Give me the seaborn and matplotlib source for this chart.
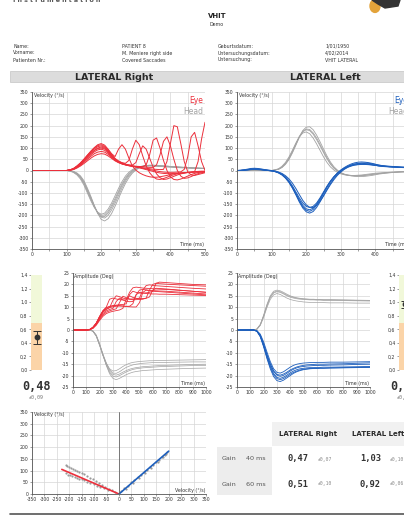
import numpy as np
import pandas as pd
import matplotlib
matplotlib.use("Agg")
import matplotlib.pyplot as plt
import seaborn as sns
from matplotlib.patches import Rectangle, Circle, Polygon
from matplotlib.lines import Line2D

# ---------------------------------------------------------------- data
VEL_TIME = list(range(0, 501, 10))
AMP_TIME = [0, 100, 125, 150, 175, 200, 225, 250, 275, 300, 325, 350, 375, 400,
            425, 450, 475, 500, 525, 550, 575, 600, 625, 650, 700, 800, 900, 1000]

Z10 = [0, 0, 0, 0, 0, 0, 0, 0, 0, 0]

# LATERAL Right - eye velocity (deg/s), one list per impulse
RIGHT_EYE_VEL = {
    "r1": Z10 + [0, 3, 9, 20, 33, 50, 68, 86, 102, 115, 120, 113, 95, 75, 62, 95, 115, 95, 55, 20,
                 2, -10, -18, -24, -28, -30, -30, -28, -25, -22, -18, -15, -13, -11, -10, -9, -8, -8, -7, -7, -6],
    "r2": Z10 + [0, 2, 7, 17, 29, 44, 60, 76, 90, 100, 105, 100, 86, 68, 52, 42, 35, 32, 45, 95,
                 135, 115, 65, 20, -10, -28, -38, -40, -36, -30, -24, -19, -15, -12, -10, -8, -7, -6, -5, -5, -4],
    "r3": Z10 + [0, 2, 6, 15, 26, 40, 55, 70, 83, 92, 95, 90, 78, 62, 48, 38, 32, 28, 25, 24,
                 35, 75, 110, 95, 55, 15, -15, -32, -40, -38, -32, -26, -20, -15, -12, -9, -7, -5, -4, -3, -3],
    "r4": Z10 + [0, 2, 5, 13, 23, 36, 50, 63, 75, 82, 85, 82, 72, 58, 45, 36, 30, 26, 23, 21,
                 19, 18, 17, 25, 70, 135, 145, 100, 45, 0, -28, -40, -42, -38, -32, -25, -18, -13, -9, -6, -4],
    "r5": Z10 + [0, 1, 4, 11, 20, 31, 43, 55, 65, 72, 75, 73, 65, 54, 43, 35, 29, 25, 22, 20,
                 18, 17, 16, 15, 14, 14, 25, 70, 130, 150, 110, 50, 0, -25, -35, -33, -27, -20, -14, -10, -7],
    "r6": Z10 + [0, 3, 8, 19, 32, 48, 65, 82, 96, 106, 110, 104, 88, 68, 50, 38, 30, 25, 21, 18,
                 16, 14, 12, 10, 8, 6, 5, 4, 5, 40, 120, 200, 195, 120, 40, -5, -20, -22, -18, -14, -10],
    "r7": Z10 + [0, 2, 7, 17, 29, 44, 60, 76, 89, 98, 100, 96, 83, 65, 49, 38, 31, 26, 22, 19,
                 16, 13, 10, 7, 4, 1, -2, -5, -7, -8, -8, -8, -7, -6, 5, 60, 150, 170, 110, 40, 0],
    "r8": Z10 + [0, 3, 9, 20, 34, 50, 68, 85, 100, 111, 115, 108, 92, 72, 54, 42, 34, 28, 24, 20,
                 16, 12, 8, 4, 0, -4, -8, -11, -13, -14, -14, -13, -12, -11, -10, -9, -8, -5, 40, 140, 215],
}
RIGHT_HEAD_VEL = {
    "h1": Z10 + [0, -2, -6, -15, -30, -55, -90, -125, -160, -190, -205, -205, -190, -165, -135, -100, -68, -40, -18, -3,
                 8, 15, 19, 21, 22, 22, 21, 20, 19, 18, 17, 16, 15, 14, 13, 12, 12, 11, 10, 10, 9],
    "h2": Z10 + [0, -1, -4, -11, -24, -45, -78, -115, -155, -192, -218, -225, -215, -192, -160, -125, -90, -58, -32, -12,
                 2, 12, 18, 22, 24, 24, 23, 22, 21, 20, 18, 17, 16, 15, 14, 13, 12, 12, 11, 10, 10],
    "h3": Z10 + [0, -3, -9, -20, -38, -65, -100, -135, -165, -186, -195, -190, -172, -145, -113, -80, -50, -25, -8, 4,
                 12, 17, 20, 21, 21, 20, 19, 18, 17, 16, 15, 14, 13, 12, 12, 11, 10, 10, 9, 9, 8],
    "h4": Z10 + [0, -2, -5, -13, -27, -50, -84, -120, -158, -190, -208, -212, -200, -176, -146, -112, -78, -48, -24, -7,
                 5, 13, 18, 21, 22, 23, 22, 21, 20, 19, 18, 17, 16, 15, 14, 13, 12, 11, 11, 10, 10],
    "h5": Z10 + [0, -2, -7, -17, -33, -58, -93, -128, -162, -188, -200, -198, -182, -156, -125, -92, -60, -34, -14, 0,
                 10, 16, 19, 20, 21, 21, 20, 19, 18, 17, 16, 15, 14, 13, 12, 12, 11, 10, 10, 9, 9],
}
# LATERAL Left - eye velocity
LEFT_EYE_VEL = {
    "b1": [0, 1, 3, 6, 9, 10, 9, 7, 4, 2, 0, -3, -8, -16, -28, -45, -68, -95, -122, -145,
           -160, -165, -160, -145, -122, -96, -70, -47, -28, -12, 0, 9, 16, 21, 25, 27, 28, 28, 27, 25,
           23, 21, 19, 18, 17, 16, 15, 14, 14, 13, 13],
    "b2": [0, 0, 2, 4, 6, 7, 6, 4, 2, 0, -2, -5, -11, -20, -34, -53, -78, -108, -140, -167,
           -184, -190, -183, -165, -140, -112, -84, -58, -36, -18, -4, 7, 16, 23, 28, 31, 33, 33, 32, 30,
           27, 24, 22, 20, 19, 18, 17, 16, 15, 15, 14],
    "b3": [0, 0, 1, 3, 5, 6, 5, 4, 2, 0, -1, -4, -9, -18, -31, -49, -73, -101, -130, -155,
           -171, -175, -168, -150, -126, -99, -72, -48, -28, -12, 1, 11, 19, 25, 29, 31, 32, 31, 29, 26,
           23, 20, 18, 17, 16, 15, 15, 14, 14, 13, 13],
    "b4": [0, 1, 2, 4, 6, 7, 7, 5, 3, 1, -1, -3, -7, -13, -23, -37, -56, -80, -107, -133,
           -153, -164, -165, -155, -137, -114, -88, -63, -41, -22, -7, 5, 14, 20, 24, 26, 27, 27, 26, 25,
           23, 21, 20, 19, 18, 17, 16, 15, 14, 14, 13],
    "b5": [0, 0, 1, 2, 4, 5, 4, 3, 1, 0, -2, -5, -10, -19, -32, -51, -76, -105, -135, -161,
           -177, -182, -174, -156, -131, -103, -75, -50, -29, -12, 2, 13, 22, 29, 34, 37, 38, 37, 35, 32,
           28, 24, 21, 19, 17, 16, 15, 14, 13, 13, 12],
}
LEFT_HEAD_VEL = {
    "g1": Z10 + [0, 2, 6, 15, 30, 52, 82, 115, 148, 172, 182, 178, 162, 138, 110, 80, 52, 28, 10, -3,
                 -12, -18, -21, -23, -24, -24, -23, -22, -20, -18, -16, -14, -12, -11, -10, -9, -8, -7, -6, -6, -5],
    "g2": Z10 + [0, 2, 5, 13, 27, 48, 78, 112, 148, 178, 193, 195, 182, 158, 128, 96, 65, 38, 17, 2,
                 -9, -16, -20, -22, -23, -23, -22, -21, -19, -17, -15, -13, -12, -10, -9, -8, -7, -6, -6, -5, -5],
    "g3": Z10 + [0, 3, 8, 19, 36, 60, 90, 122, 150, 167, 172, 164, 145, 119, 90, 61, 36, 16, 2, -8,
                 -15, -19, -21, -22, -22, -21, -20, -18, -16, -14, -12, -11, -10, -9, -8, -7, -6, -5, -5, -4, -4],
    "g4": Z10 + [0, 2, 6, 15, 31, 54, 85, 119, 152, 175, 185, 183, 168, 145, 116, 86, 57, 32, 13, 0,
                 -10, -17, -21, -24, -26, -27, -27, -26, -24, -22, -19, -16, -14, -12, -10, -9, -8, -7, -6, -6, -5],
}

# position (amplitude, deg)
RIGHT_EYE_AMP = {
    "r1": [0, 0, 0.2, 1.2, 3, 6, 8.5, 10, 13.5, 14, 13.6, 13.3, 13.2, 13.2, 16.5, 18.5, 18.8, 18.6, 18.4, 18.3, 18.2, 18.1, 18, 17.9, 17.8, 17.4, 17, 16.6],
    "r2": [0, 0, 0.2, 1, 2.8, 5.5, 7.8, 9, 9.8, 13, 15, 14.6, 14, 13.7, 13.6, 13.6, 13.7, 14, 17.5, 19.5, 19.8, 19.6, 19.4, 19.3, 19.1, 18.7, 18.3, 18],
    "r3": [0, 0, 0.1, 0.9, 2.6, 5, 7.2, 8.4, 9, 9.5, 12.5, 14, 13.2, 12.6, 12.4, 12.5, 15.5, 17.5, 17.8, 17.6, 17.4, 17.3, 17.2, 17.1, 17, 16.6, 16.2, 15.8],
    "r4": [0, 0, 0.1, 0.8, 2.4, 4.6, 6.6, 7.8, 8.4, 8.9, 9.3, 12, 14.8, 14.2, 13.5, 13.3, 13.3, 13.4, 13.5, 14, 17.5, 20, 20.5, 20.3, 20.1, 19.8, 19.5, 19.2],
    "r5": [0, 0, 0.1, 0.7, 2.1, 4.2, 6, 7.2, 7.8, 8.2, 8.5, 8.8, 9.5, 13.5, 15, 14.3, 13.9, 13.8, 13.8, 13.9, 14.5, 17.5, 18.3, 18.2, 18, 17.5, 17, 16.5],
    "r6": [0, 0, 0.2, 1.2, 3, 5.8, 8.2, 9.6, 10.2, 10.6, 10.9, 11.1, 11.2, 11.5, 15.5, 17, 16.5, 16.2, 16.2, 16.3, 16.5, 17, 20.5, 21, 20.8, 20.4, 20, 19.8],
    "r7": [0, 0, 0.2, 1.1, 2.9, 5.5, 7.9, 9.2, 9.8, 10.2, 10.4, 10.5, 10.5, 10.4, 10.4, 11.5, 15.5, 16.5, 16.2, 16, 15.9, 15.8, 15.8, 15.7, 15.7, 15.5, 15.3, 15.1],
    "r8": [0, 0, 0.2, 1.2, 3.1, 5.9, 8.4, 9.8, 10.4, 10.7, 10.8, 10.7, 10.5, 10.3, 10.2, 10.1, 10.1, 12, 16.5, 17.5, 17.2, 17, 16.9, 16.8, 16.6, 16.2, 15.8, 15.4],
}
RIGHT_HEAD_AMP = {
    "h1": [0, 0, 0, -0.5, -2.5, -6.5, -11, -15, -18, -19.5, -19.8, -19.3, -18.5, -17.8, -17.2, -16.8, -16.5, -16.3, -16.1, -16, -15.9, -15.8, -15.7, -15.6, -15.5, -15.3, -15.1, -15],
    "h2": [0, 0, 0, -0.4, -2.2, -6, -10.8, -15.5, -19.2, -21.2, -21.8, -21.2, -20.4, -19.6, -19, -18.5, -18.2, -18, -17.8, -17.7, -17.6, -17.5, -17.4, -17.3, -17.2, -17, -16.8, -16.7],
    "h3": [0, 0, 0, -0.6, -2.8, -6.8, -11, -14.5, -17, -18, -17.8, -17, -16, -15.2, -14.6, -14.2, -14, -13.8, -13.7, -13.6, -13.5, -13.5, -13.4, -13.4, -13.3, -13.2, -13.1, -13],
    "h4": [0, 0, 0, -0.5, -2.6, -6.6, -11.2, -15.3, -18.6, -20.3, -20.6, -20, -19.2, -18.4, -17.8, -17.3, -17, -16.8, -16.6, -16.5, -16.4, -16.3, -16.2, -16.1, -16, -15.8, -15.6, -15.5],
    "h5": [0, 0, 0, -0.5, -2.4, -6.2, -10.5, -14.4, -17.4, -18.9, -19, -18.3, -17.3, -16.4, -15.8, -15.3, -15, -14.8, -14.6, -14.5, -14.4, -14.3, -14.3, -14.2, -14.2, -14.1, -14, -14],
}
LEFT_EYE_AMP = {
    "b1": [0, 0, 0, -0.5, -2.5, -6.5, -11, -15, -18, -19.5, -19.8, -19.3, -18.5, -17.5, -16.8, -16.2, -15.8, -15.5, -15.3, -15.2, -15.1, -15, -15, -15, -14.9, -14.8, -14.6, -14.4],
    "b2": [0, 0, 0, -0.6, -2.8, -7, -12, -16.3, -19.6, -21.3, -21.8, -21.3, -20.4, -19.4, -18.6, -18, -17.5, -17.2, -17, -16.9, -16.8, -16.8, -16.7, -16.7, -16.6, -16.5, -16.4, -16.3],
    "b3": [0, 0, 0, -0.4, -2.2, -6, -10.6, -14.8, -18, -19.8, -20.3, -19.9, -19, -18, -17.2, -16.6, -16.2, -16, -15.8, -15.7, -15.6, -15.6, -15.5, -15.5, -15.4, -15.3, -15.1, -15],
    "b4": [0, 0, 0, -0.5, -2.6, -6.8, -11.6, -15.8, -19, -20.8, -21.2, -20.7, -19.8, -18.8, -18, -17.4, -17, -16.8, -16.6, -16.5, -16.5, -16.4, -16.4, -16.3, -16.3, -16.2, -16.1, -16],
    "b5": [0, 0, 0, -0.3, -1.8, -5.2, -9.6, -13.8, -17, -18.6, -18.9, -18.3, -17.3, -16.3, -15.5, -15, -14.7, -14.5, -14.4, -14.3, -14.3, -14.2, -14.2, -14.2, -14.1, -14.1, -14, -13.9],
    "b6": [0, 0, 0, -0.6, -3, -7.4, -12.5, -17, -20.4, -22.2, -22.6, -22, -21, -20, -19, -18.3, -17.8, -17.4, -17.2, -17, -16.9, -16.9, -16.8, -16.8, -16.7, -16.6, -16.5, -16.4],
}
LEFT_HEAD_AMP = {
    "g1": [0, 0, 0, 0.4, 2.2, 6, 10.5, 14.2, 16.2, 16.8, 16.5, 15.8, 15, 14.4, 14, 13.7, 13.5, 13.4, 13.3, 13.2, 13.2, 13.1, 13.1, 13, 13, 12.9, 12.8, 12.7],
    "g2": [0, 0, 0, 0.5, 2.5, 6.5, 11.2, 15, 17, 17.5, 17.2, 16.5, 15.7, 15, 14.5, 14.1, 13.9, 13.7, 13.6, 13.5, 13.5, 13.4, 13.4, 13.3, 13.3, 13.2, 13.1, 13],
    "g3": [0, 0, 0, 0.3, 2, 5.5, 9.8, 13.4, 15.4, 16, 15.6, 14.8, 14, 13.4, 13, 12.7, 12.5, 12.3, 12.2, 12.1, 12.1, 12, 12, 12, 11.9, 11.9, 11.8, 11.8],
    "g4": [0, 0, 0, 0.4, 2.3, 6.2, 10.8, 14.6, 16.5, 17.1, 16.8, 16.1, 15.3, 14.7, 14.3, 14, 13.8, 13.6, 13.5, 13.4, 13.4, 13.3, 13.3, 13.2, 13.2, 13.1, 13, 12.9],
}

# gain summary
GAIN_RIGHT, GAIN_RIGHT_SD = 0.48, 0.09
GAIN_LEFT, GAIN_LEFT_SD = 0.97, 0.05
GAIN_NORMAL_LOW = 0.7

# regression (head velocity vs eye velocity)
REG_R_X = [-215, -208, -200, -192, -185, -176, -168, -160, -150, -140, -130, -118, -105, -92, -80, -68, -55, -42, -30, -18,
           -212, -204, -196, -188, -178, -170, -160, -150, -140, -128, -115, -100, -88, -75, -60, -45]
REG_R_Y = [122, 118, 115, 112, 108, 104, 100, 96, 90, 84, 77, 70, 62, 54, 46, 38, 30, 22, 15, 8,
           88, 82, 80, 76, 72, 70, 66, 62, 58, 52, 47, 42, 36, 30, 24, 18]
REG_L_X = [10, 22, 35, 48, 60, 75, 88, 100, 112, 125, 138, 150, 160, 172, 185, 195, 30, 55, 80, 105, 130, 155, 178, 190]
REG_L_Y = [12, 25, 36, 50, 58, 72, 80, 95, 102, 115, 125, 138, 145, 158, 168, 178, 20, 45, 68, 90, 112, 135, 160, 170]
FIT_R_X, FIT_R_Y = [-230, 0], [105, 0]
FIT_L_X, FIT_L_Y = [0, 200], [0, 183]

# table
TABLE_ROWS = ["Gain", "Gain"]
TABLE_WIN = ["40 ms", "60 ms"]
TABLE_R = ["0,47", "0,51"]
TABLE_R_SD = ["±0,07", "±0,10"]
TABLE_L = ["1,03", "0,92"]
TABLE_L_SD = ["±0,10", "±0,06"]

VEL_TICKS = [-350, -300, -250, -200, -150, -100, -50, 0, 50, 100, 150, 200, 250, 300, 350]
VEL_XTICKS = [0, 50, 100, 150, 200, 250, 300, 350, 400, 450, 500]
AMP_XTICKS = [0, 100, 200, 300, 400, 500, 600, 700, 800, 900, 1000]
AMP_YTICKS = [-25, -20, -15, -10, -5, 0, 5, 10, 15, 20, 25]
GAIN_TICKS = [0.0, 0.2, 0.4, 0.6, 0.8, 1.0, 1.2, 1.4]
GAIN_LABELS = ["0,0", "0,2", "0,4", "0,6", "0,8", "1,0", "1,2", "1,4"]
REG_XTICKS = [-350, -300, -250, -200, -150, -100, -50, 0, 50, 100, 150, 200, 250, 300, 350]
REG_YTICKS = [0, 50, 100, 150, 200, 250, 300, 350]

# ---------------------------------------------------------------- style
sns.set_theme(style="white")
plt.rcParams['font.family'] = ['DejaVu Sans']
RED = "#ec2f3b"
BLUE = "#1d5fbd"
GRAY = "#a3a3a3"
TXT = "#333333"
GRID = "#d6d6d6"
TS = 3.3

W, H = 404, 518
fig = plt.figure(figsize=(W / 100, H / 100), dpi=100)
fig.patch.set_facecolor("white")


def rect(x0, y0, x1, y1):
    return [x0 / W, 1 - y1 / H, (x1 - x0) / W, (y1 - y0) / H]


def ftxt(x, y, s, **kw):
    kw.setdefault("color", TXT)
    fig.text(x / W, 1 - y / H, s, **kw)


def long_df(time, traces):
    parts = [pd.DataFrame({"time": time, "value": v, "trace": k}) for k, v in traces.items()]
    return pd.concat(parts, ignore_index=True)


def style(ax, xt, xlab, yt, ylab):
    ax.set_xticks(xt)
    ax.set_xticklabels(xlab)
    ax.set_yticks(yt)
    ax.set_yticklabels(ylab)
    ax.grid(True, color=GRID, lw=0.5)
    ax.set_axisbelow(True)
    for s in ["top", "right"]:
        ax.spines[s].set_visible(False)
    for s in ["left", "bottom"]:
        ax.spines[s].set_color("#555555")
        ax.spines[s].set_linewidth(0.6)
    ax.tick_params(length=1.5, width=0.4, pad=1, labelsize=TS, colors="#555555",
                   labelcolor=TXT, bottom=True, left=True)
    ax.set_xlabel("")
    ax.set_ylabel("")


def every_other(ticks):
    return [str(t) if i % 2 == 0 else "" for i, t in enumerate(ticks)]


def velocity_panel(box, eye, head, eye_color):
    ax = fig.add_axes(rect(*box))
    sns.lineplot(data=long_df(VEL_TIME, head), x="time", y="value", units="trace",
                 estimator=None, color=GRAY, lw=0.6, ax=ax, legend=False)
    sns.lineplot(data=long_df(VEL_TIME, eye), x="time", y="value", units="trace",
                 estimator=None, color=eye_color, lw=0.7, ax=ax, legend=False)
    ax.set_xlim(0, 500)
    ax.set_ylim(-350, 350)
    style(ax, VEL_XTICKS, every_other(VEL_XTICKS), VEL_TICKS, [str(t) for t in VEL_TICKS])
    ax.text(0.01, 0.995, "Velocity (°/s)", transform=ax.transAxes, fontsize=3.4, color=TXT, va="top", ha="left")
    ax.text(0.995, 0.01, "Time (ms)", transform=ax.transAxes, fontsize=3.4, color=TXT, va="bottom", ha="right")
    ax.text(0.99, 0.975, "Eye", transform=ax.transAxes, fontsize=5.5, color=eye_color, va="top", ha="right")
    ax.text(0.99, 0.905, "Head", transform=ax.transAxes, fontsize=5.5, color=GRAY, va="top", ha="right")
    return ax


def amplitude_panel(box, eye, head, eye_color):
    ax = fig.add_axes(rect(*box))
    sns.lineplot(data=long_df(AMP_TIME, head), x="time", y="value", units="trace",
                 estimator=None, color=GRAY, lw=0.5, ax=ax, legend=False)
    sns.lineplot(data=long_df(AMP_TIME, eye), x="time", y="value", units="trace",
                 estimator=None, color=eye_color, lw=0.6, ax=ax, legend=False)
    ax.set_xlim(0, 1000)
    ax.set_ylim(-25, 25)
    style(ax, AMP_XTICKS, [str(t) for t in AMP_XTICKS], AMP_YTICKS, [str(t) for t in AMP_YTICKS])
    ax.text(0.01, 0.995, "Amplitude (Deg)", transform=ax.transAxes, fontsize=3.4, color=TXT, va="top", ha="left")
    ax.text(0.995, 0.01, "Time (ms)", transform=ax.transAxes, fontsize=3.4, color=TXT, va="bottom", ha="right")
    return ax


def gain_panel(box, gain, sd):
    ax = fig.add_axes(rect(*box))
    ax.axhspan(0, GAIN_NORMAL_LOW, color="#fbd4a8", lw=0)
    ax.axhspan(GAIN_NORMAL_LOW, 1.4, color="#f1f8d9", lw=0)
    ax.errorbar([0.5], [gain], yerr=[sd], fmt="o", color="#333333", ms=3.2, capsize=2.6, lw=0.7, capthick=0.7)
    ax.set_xlim(0, 1)
    ax.set_ylim(0, 1.4)
    ax.set_xticks([])
    ax.set_yticks(GAIN_TICKS)
    ax.set_yticklabels(GAIN_LABELS)
    for s in ax.spines.values():
        s.set_visible(False)
    ax.tick_params(axis="y", length=1.5, width=0.4, pad=1, labelsize=TS, colors="#555555", labelcolor=TXT, left=True)
    return ax


# ---------------------------------------------------------------- header
ftxt(13, 2.5, "I n s t r u m e n t a t i o n", fontsize=4.5, fontweight="bold", color="#555555", va="baseline")
fig.add_artist(Circle((375 / W, 1 - 6 / H), 5 / W, transform=fig.transFigure, color="#e3a33a", zorder=3))
fig.add_artist(Polygon([(372 / W, 1), (400 / W, 1), (398 / W, 1 - 6 / H), (385 / W, 1 - 8 / H), (378 / W, 1 - 4 / H)],
                       closed=True, transform=fig.transFigure, color="#333333", zorder=4))
ftxt(217, 16, "VHIT", fontsize=5, fontweight="bold", ha="center", va="center", color="#222222")
ftxt(217, 24, "Demo", fontsize=3.4, ha="center", va="center")

INFO = [("Name:", "PATIENT 8", "Geburtsdatum:", "1/01/1950"),
        ("Vorname:", "M. Meniere right side", "Untersuchungsdatum:", "4/02/2014"),
        ("Patienten Nr.:", "Covered Saccades", "Untersuchung:", "VHIT LATERAL")]
for i, row in enumerate(INFO):
    y = 46 + i * 7
    for x, s in zip([13, 122, 218, 325], row):
        ftxt(x, y, s, fontsize=3.4, va="center", ha="left")

fig.add_artist(Rectangle((10 / W, 1 - 82 / H), 394 / W, 11 / H, transform=fig.transFigure,
                         facecolor="#dcdcdc", edgecolor="#c4c4c4", lw=0.5))
ftxt(114, 77, "LATERAL Right", fontsize=6.8, fontweight="bold", ha="center", va="center", color="#2a2a2a")
ftxt(325, 77, "LATERAL Left", fontsize=6.8, fontweight="bold", ha="center", va="center", color="#2a2a2a")

# ---------------------------------------------------------------- panels
velocity_panel((32, 92, 205, 249), RIGHT_EYE_VEL, RIGHT_HEAD_VEL, RED)
velocity_panel((237, 92, 410, 249), LEFT_EYE_VEL, LEFT_HEAD_VEL, BLUE)

gain_panel((31, 275, 42, 370), GAIN_RIGHT, GAIN_RIGHT_SD)
gain_panel((399, 275, 410, 370), GAIN_LEFT, GAIN_LEFT_SD)
amplitude_panel((73, 273, 206, 387), RIGHT_EYE_AMP, RIGHT_HEAD_AMP, RED)
amplitude_panel((237, 273, 370, 387), LEFT_EYE_AMP, LEFT_HEAD_AMP, BLUE)

ftxt(36.5, 386, f"{GAIN_RIGHT:.2f}".replace(".", ","), fontsize=8.5, fontweight="bold",
     family="DejaVu Sans Mono", ha="center", va="center")
ftxt(36.5, 397, f"±{GAIN_RIGHT_SD:.2f}".replace(".", ","), fontsize=3.6, family="DejaVu Sans Mono",
     ha="center", va="center", color="#777777")
ftxt(404.5, 386, f"{GAIN_LEFT:.2f}".replace(".", ","), fontsize=8.5, fontweight="bold",
     family="DejaVu Sans Mono", ha="center", va="center")
ftxt(404.5, 397, f"±{GAIN_LEFT_SD:.2f}".replace(".", ","), fontsize=3.6, family="DejaVu Sans Mono",
     ha="center", va="center", color="#777777")

# regression
ax = fig.add_axes(rect(32, 412, 206, 494))
sns.scatterplot(x=REG_R_X, y=REG_R_Y, color="#9a9a9a", s=2.5, linewidth=0, ax=ax, legend=False)
sns.scatterplot(x=REG_L_X, y=REG_L_Y, color="#9a9a9a", s=2.5, linewidth=0, ax=ax, legend=False)
sns.lineplot(x=FIT_R_X, y=FIT_R_Y, color=RED, lw=1.2, ax=ax, legend=False)
sns.lineplot(x=FIT_L_X, y=FIT_L_Y, color=BLUE, lw=1.2, ax=ax, legend=False)
ax.axvline(0, color="#666666", lw=0.6)
ax.set_xlim(-350, 350)
ax.set_ylim(0, 350)
style(ax, REG_XTICKS, [str(t) for t in REG_XTICKS], REG_YTICKS, [str(t) for t in REG_YTICKS])
ax.text(0.01, 0.995, "Velocity (°/s)", transform=ax.transAxes, fontsize=3.4, color=TXT, va="top", ha="left")
ax.text(0.995, 0.015, "Velocity (°/s)", transform=ax.transAxes, fontsize=3.4, color=TXT, va="bottom", ha="right")

# ---------------------------------------------------------------- table
fig.add_artist(Rectangle((272 / W, 1 - 446 / H), 132 / W, 24 / H, transform=fig.transFigure,
                         facecolor="#f1f1f1", edgecolor="none"))
fig.add_artist(Rectangle((217 / W, 1 - 495 / H), 55 / W, 48 / H, transform=fig.transFigure,
                         facecolor="#ededed", edgecolor="none"))
ftxt(308, 434, "LATERAL Right", fontsize=5, fontweight="bold", ha="center", va="center", color="#2a2a2a")
ftxt(352, 434, "LATERAL Left", fontsize=5, fontweight="bold", ha="left", va="center", color="#2a2a2a")
for i in range(2):
    y = 459 + i * 25
    ftxt(222, y, TABLE_ROWS[i], fontsize=4.6, ha="left", va="center", color="#555555")
    ftxt(246, y, TABLE_WIN[i], fontsize=4.6, ha="left", va="center", color="#555555")
    ftxt(288, y, TABLE_R[i], fontsize=6.3, fontweight="bold", family="DejaVu Sans Mono", ha="left", va="center")
    ftxt(318, y, TABLE_R_SD[i], fontsize=3.4, family="DejaVu Sans Mono", ha="left", va="center", color="#888888")
    ftxt(360, y, TABLE_L[i], fontsize=6.3, fontweight="bold", family="DejaVu Sans Mono", ha="left", va="center")
    ftxt(390, y, TABLE_L_SD[i], fontsize=3.4, family="DejaVu Sans Mono", ha="left", va="center", color="#888888")

fig.add_artist(Line2D([10 / W, 1], [1 - 514 / H, 1 - 514 / H], transform=fig.transFigure, color="#555555", lw=1.2))

fig.savefig("out.png", dpi=100, facecolor="white")
